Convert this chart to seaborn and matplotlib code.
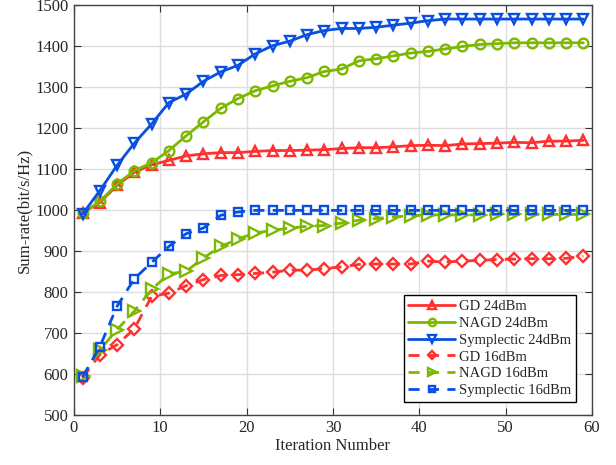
import numpy as np
import pandas as pd
import matplotlib
matplotlib.use('Agg')
import matplotlib.pyplot as plt
import seaborn as sns

# iterations where the curves are sampled (odd iterations)
iters = list(range(1, 60, 2))

gd_24 = [993, 1018, 1060, 1092, 1110, 1121, 1132, 1137, 1140, 1140,
         1143, 1145, 1145, 1146, 1147, 1150, 1152, 1152, 1154, 1157,
         1158, 1157, 1161, 1162, 1163, 1165, 1164, 1168, 1168, 1170]
nagd_24 = [992, 1021, 1063, 1096, 1115, 1145, 1181, 1215, 1248, 1272,
           1291, 1303, 1314, 1323, 1338, 1344, 1364, 1369, 1376, 1383,
           1387, 1393, 1399, 1404, 1406, 1408, 1408, 1408, 1408, 1408]
symp_24 = [990, 1047, 1109, 1163, 1210, 1262, 1283, 1314, 1337, 1353,
           1381, 1401, 1412, 1428, 1438, 1443, 1443, 1446, 1451, 1456,
           1462, 1466, 1466, 1466, 1466, 1466, 1466, 1466, 1466, 1466]
gd_16 = [590, 647, 671, 710, 789, 797, 815, 830, 840, 842,
         845, 848, 853, 853, 857, 861, 867, 868, 868, 868,
         875, 873, 875, 877, 879, 880, 881, 881, 882, 887]
nagd_16 = [594, 658, 708, 753, 806, 844, 850, 883, 911, 929,
           944, 950, 956, 960, 962, 968, 975, 979, 983, 986,
           988, 988, 988, 988, 989, 989, 989, 989, 989, 989]
symp_16 = [592, 666, 765, 832, 872, 911, 942, 956, 987, 995,
           999, 999, 999, 999, 999, 999, 999, 999, 999, 999,
           999, 999, 999, 999, 999, 999, 999, 999, 999, 999]

labels = ['GD 24dBm', 'NAGD 24dBm', 'Symplectic 24dBm',
          'GD 16dBm', 'NAGD 16dBm', 'Symplectic 16dBm']
series = [gd_24, nagd_24, symp_24, gd_16, nagd_16, symp_16]

red = '#FF3030'
green = '#7DB800'
blue = '#0A4FE0'
colors = [red, green, blue, red, green, blue]
markers = ['^', 'o', 'v', 'D', '>', 's']
msizes = [7.5, 7, 7.5, 6, 8, 5.5]
dashed = (0, (4, 3))
styles = ['-', '-', '-', dashed, dashed, dashed]

sns.set_style('whitegrid')
plt.rcParams['font.family'] = ['Liberation Serif', 'DejaVu Serif']

fig = plt.figure(figsize=(6.16, 4.65), dpi=100)
ax = fig.add_axes([0.120, 0.108, 0.841, 0.881])

for lab, vals, c, m, ms, ls in zip(labels, series, colors, markers, msizes, styles):
    df = pd.DataFrame({'iter': iters, 'rate': vals})
    sns.lineplot(data=df, x='iter', y='rate', ax=ax, color=c, linestyle=ls,
                 linewidth=2, marker=m, markersize=ms, markerfacecolor='none',
                 markeredgecolor=c, markeredgewidth=1.7, label=lab)

ax.set_xlim(0, 60)
ax.set_ylim(500, 1500)
ax.set_xticks(np.arange(0, 61, 10))
ax.set_yticks(np.arange(500, 1501, 100))
ax.set_xlabel('Iteration Number', fontsize=12, labelpad=1)
ax.set_ylabel('Sum-rate(bit/s/Hz)', fontsize=12, labelpad=2)
ax.tick_params(axis='both', labelsize=12, direction='in', length=5,
               color='#333333', top=True, right=True, bottom=True, left=True, pad=4)
ax.grid(True, color='#DDDDDD', linewidth=1)
for sp in ax.spines.values():
    sp.set_color('#444444')
    sp.set_linewidth(1)

leg = ax.legend(loc='lower right', bbox_to_anchor=(0.969, 0.032), fontsize=10.5,
                frameon=True, fancybox=False, edgecolor='black', framealpha=1,
                handlelength=3.2, handletextpad=0.3, borderpad=0.3, labelspacing=0.25,
                borderaxespad=0.0, markerscale=0.75)
leg.get_frame().set_linewidth(1)

fig.savefig('out.png', dpi=100)
